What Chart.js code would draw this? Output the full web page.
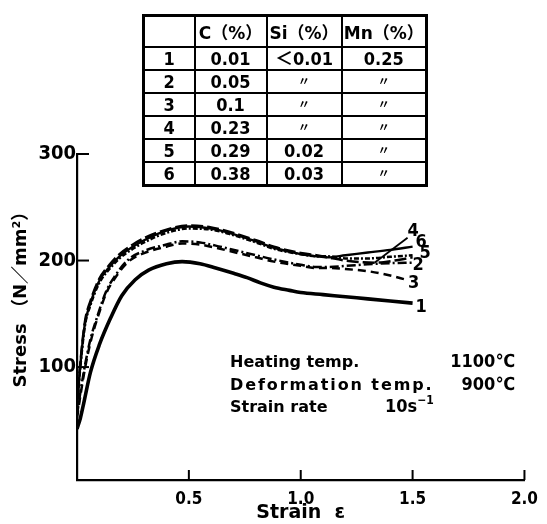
<!DOCTYPE html>
<html>
<head>
<meta charset="utf-8">
<script src="https://cdn.jsdelivr.net/npm/chart.js@4.4.1/dist/chart.umd.min.js"></script>
<style>
html,body{margin:0;padding:0;background:#fff;}
#wrap{position:relative;width:547px;height:524px;overflow:hidden;}
#c{position:absolute;left:0;top:0;}
#tbl{position:absolute;left:142px;top:14px;border-collapse:collapse;border:3px solid #000;table-layout:fixed;}
#tbl td{border:2px solid #000;text-align:center;padding:0;height:21px;
  font:bold 18px 'Liberation Sans Narrow','DejaVu Sans Condensed','Liberation Sans','Noto Sans CJK JP',sans-serif;color:#000;line-height:20px;}
#tbl tr.hd td{height:29px;font:bold 17px 'DejaVu Sans','Noto Sans CJK JP',sans-serif;}
</style>
</head>
<body>
<div id="wrap">
<canvas id="c" width="547" height="524"></canvas>
<table id="tbl"></table>
</div>
<script>
// ---------- DATA ----------
const curveNames = ['1','2','3','4','5','6'];

const strain1 = [0, 0.015, 0.03, 0.06, 0.1, 0.15, 0.2, 0.26, 0.32, 0.4, 0.47, 0.55, 0.62, 0.7, 0.76, 0.82, 0.88, 0.95, 1.0, 1.1, 1.2, 1.3, 1.4, 1.5];
const stress1 = [42, 52, 66, 95, 121, 146, 167, 182, 191, 197, 199, 197, 193, 188, 184, 179, 175, 172, 170, 168, 166, 164, 162, 160];

const strain2 = [0, 0.015, 0.035, 0.06, 0.09, 0.13, 0.165, 0.23, 0.3, 0.4, 0.47, 0.55, 0.62, 0.68, 0.8, 0.88, 1.0, 1.07, 1.12, 1.2, 1.3, 1.4, 1.5];
const stress2 = [55, 76, 101, 126, 147, 171, 184, 201, 209, 215, 218, 217, 214, 211, 205, 201, 196, 194, 194, 195, 196.5, 197.5, 198];

const strain3 = [0, 0.015, 0.035, 0.06, 0.09, 0.13, 0.165, 0.23, 0.3, 0.4, 0.47, 0.55, 0.62, 0.68, 0.8, 0.88, 1.0, 1.07, 1.12, 1.2, 1.3, 1.4, 1.47];
const stress3 = [52, 73, 98, 123, 145, 169, 182, 199, 207, 213, 216, 215, 212, 209, 203, 199, 195, 193, 193, 192, 190, 186, 182];

const strain4 = [0, 0.012, 0.035, 0.06, 0.1, 0.145, 0.19, 0.25, 0.3, 0.4, 0.5, 0.6, 0.68, 0.8, 0.88, 1.0, 1.07, 1.12, 1.2, 1.33, 1.42, 1.5];
const stress4 = [64, 97, 142, 162, 183, 196, 206, 215, 221, 229, 233, 231, 227, 219, 213, 207, 205, 203, 200, 198, 200, 203];

const strain5 = [0, 0.012, 0.035, 0.06, 0.1, 0.145, 0.19, 0.25, 0.3, 0.4, 0.5, 0.6, 0.68, 0.8, 0.88, 1.0, 1.07, 1.12, 1.2, 1.3, 1.4, 1.5];
const stress5 = [60, 93, 138, 158, 179, 192, 202, 211, 217, 226, 230, 229, 225, 217, 211, 206, 204, 204, 202, 202, 203.5, 205];

const strain6 = [0, 0.012, 0.035, 0.06, 0.1, 0.145, 0.19, 0.25, 0.3, 0.4, 0.5, 0.6, 0.68, 0.8, 0.88, 1.0, 1.07, 1.12, 1.2, 1.3, 1.4, 1.5];
const stress6 = [62, 95, 140, 160, 181, 194, 204, 213, 219, 228, 232, 230, 226, 218, 212, 206, 204, 203, 205, 207.5, 210, 213];

const xTickValues = [0.5, 1.0, 1.5, 2.0];
const yTickValues = [100, 200, 300];

// composition table
const tableHeader = ['', 'C（%）', 'Si（%）', 'Mn（%）'];
const carbon = ['0.01', '0.05', '0.1', '0.23', '0.29', '0.38'];
const silicon = ['＜0.01', '〃', '〃', '〃', '0.02', '0.03'];
const manganese = ['0.25', '〃', '〃', '〃', '〃', '〃'];

const conditionLabels = ['Heating temp.', 'Deformation temp.', 'Strain rate'];
const conditionValues = ['1100℃', '900℃', '10s'];

// ---------- TABLE ----------
(function(){
  const tbl = document.getElementById('tbl');
  const widths = [51, 72, 75, 85];
  const cg = document.createElement('colgroup');
  widths.forEach(w => { const c = document.createElement('col'); c.style.width = w + 'px'; cg.appendChild(c); });
  tbl.appendChild(cg);
  const hr = document.createElement('tr'); hr.className = 'hd';
  tableHeader.forEach(h => { const td = document.createElement('td'); td.textContent = h; hr.appendChild(td); });
  tbl.appendChild(hr);
  curveNames.forEach((n, i) => {
    const tr = document.createElement('tr');
    [n, carbon[i], silicon[i], manganese[i]].forEach((v, j) => {
      const td = document.createElement('td'); td.textContent = v;
      if (v === '〃') { td.style.fontSize = '12px'; }
      tr.appendChild(td);
    });
    tbl.appendChild(tr);
  });
})();

// ---------- CHART ----------
const pts = (xs, ys) => xs.map((x, i) => ({x, y: ys[i]}));
const series = [
  {x: strain1, y: stress1, dash: [], w: 3.6},
  {x: strain2, y: stress2, dash: [9, 3, 2, 3], w: 2.5},
  {x: strain3, y: stress3, dash: [8, 5], w: 2.5},
  {x: strain4, y: stress4, dash: [12, 4], w: 2.5},
  {x: strain5, y: stress5, dash: [5, 2, 2, 2], w: 2.5},
  {x: strain6, y: stress6, dash: [], w: 2.4}
];
const labelOffsets = [[3, 4], [0, 3], [2, 4], [0, 0], [7, -2], [3, -4]];
const NARROW = "'Liberation Sans Narrow','DejaVu Sans Condensed','Liberation Sans',sans-serif";
const WIDE = "'DejaVu Sans','Noto Sans CJK JP',sans-serif";

const overlay = {
  id: 'overlay',
  afterDatasetsDraw(chart) {
    const {ctx, scales: {x, y}} = chart;
    ctx.save();
    ctx.strokeStyle = '#000';
    ctx.lineWidth = 2;
    xTickValues.forEach(v => {
      const px = x.getPixelForValue(v);
      ctx.beginPath(); ctx.moveTo(px, y.bottom); ctx.lineTo(px, y.bottom - 10); ctx.stroke();
    });
    yTickValues.forEach(v => {
      const py = y.getPixelForValue(v);
      ctx.beginPath(); ctx.moveTo(x.left, py); ctx.lineTo(x.left + 12, py); ctx.stroke();
    });
    // curve labels
    ctx.fillStyle = '#000';
    ctx.font = 'bold 18px ' + NARROW;
    ctx.textAlign = 'left';
    ctx.textBaseline = 'middle';
    chart.data.datasets.forEach((ds, i) => {
      const d = ds.data;
      if (i === 3) {
        const a = d.find(p => p.x === 1.33);
        const ax = x.getPixelForValue(a.x), ay = y.getPixelForValue(a.y);
        const lx = ax + 33, ly = ay - 31;
        ctx.lineWidth = 1.8;
        ctx.beginPath(); ctx.moveTo(ax, ay); ctx.lineTo(lx, ly + 6); ctx.stroke();
        ctx.fillText(ds.label, lx, ly);
        return;
      }
      const last = d[d.length - 1];
      const px = x.getPixelForValue(last.x), py = y.getPixelForValue(last.y);
      ctx.fillText(ds.label, px + labelOffsets[i][0], py + labelOffsets[i][1]);
    });
    // test conditions
    const baseX = x.left + 153;
    const rightX = x.left + 438;
    const lineY = [367, 390, 412];
    const spacing = ['0px', '1.9px', '0px'];
    ctx.textBaseline = 'alphabetic';
    conditionLabels.forEach((t, i) => {
      ctx.font = 'bold 16px ' + WIDE;
      ctx.textAlign = 'left';
      ctx.letterSpacing = spacing[i];
      ctx.fillText(t, baseX, lineY[i]);
      ctx.letterSpacing = '0px';
    });
    ctx.font = 'bold 18px ' + NARROW;
    ctx.textAlign = 'right';
    ctx.fillText(conditionValues[0], rightX, lineY[0]);
    ctx.fillText(conditionValues[1], rightX, lineY[1]);
    ctx.textAlign = 'left';
    ctx.fillText(conditionValues[2], x.left + 308, lineY[2]);
    const w = ctx.measureText(conditionValues[2]).width;
    ctx.font = 'bold 12px ' + NARROW;
    ctx.fillText('−1', x.left + 308 + w, lineY[2] - 8);
    ctx.restore();
  }
};

new Chart(document.getElementById('c'), {
  type: 'line',
  data: {
    datasets: series.map((s, i) => ({
      label: curveNames[i],
      data: pts(s.x, s.y),
      borderColor: '#000',
      borderWidth: s.w,
      borderDash: s.dash,
      pointRadius: 0,
      fill: false,
      cubicInterpolationMode: 'monotone'
    }))
  },
  options: {
    responsive: false,
    animation: false,
    devicePixelRatio: 1,
    layout: {padding: {top: 154, right: 16, left: 0, bottom: 0}},
    plugins: {legend: {display: false}, tooltip: {enabled: false}},
    scales: {
      x: {
        type: 'linear', min: 0, max: 2,
        afterBuildTicks: s => { s.ticks = xTickValues.map(v => ({value: v})); },
        afterFit: s => { s.height = 44; },
        grid: {display: false, drawTicks: false},
        border: {display: true, color: '#000', width: 2.2},
        ticks: {color: '#000', padding: 9, font: {family: NARROW, weight: 'bold', size: 17},
          callback: v => Number(v).toFixed(1)},
        title: {display: true, text: 'Strain  ε', color: '#000', padding: {top: 0, bottom: 0},
          font: {family: WIDE, weight: 'bold', size: 19}}
      },
      y: {
        type: 'linear', min: -6, max: 300,
        afterBuildTicks: s => { s.ticks = yTickValues.map(v => ({value: v})); },
        afterFit: s => { s.width = 77; },
        grid: {display: false, drawTicks: false},
        border: {display: true, color: '#000', width: 2.2},
        ticks: {color: '#000', padding: 1, font: {family: NARROW, weight: 'bold', size: 20}},
        title: {display: true, text: '       Stress （N／mm²）', color: '#000', padding: {top: 11, bottom: 0},
          font: {family: "'DejaVu Sans','Noto Sans CJK JP',sans-serif", weight: 'bold', size: 18}}
      }
    }
  },
  plugins: [overlay]
});
</script>
</body>
</html>
